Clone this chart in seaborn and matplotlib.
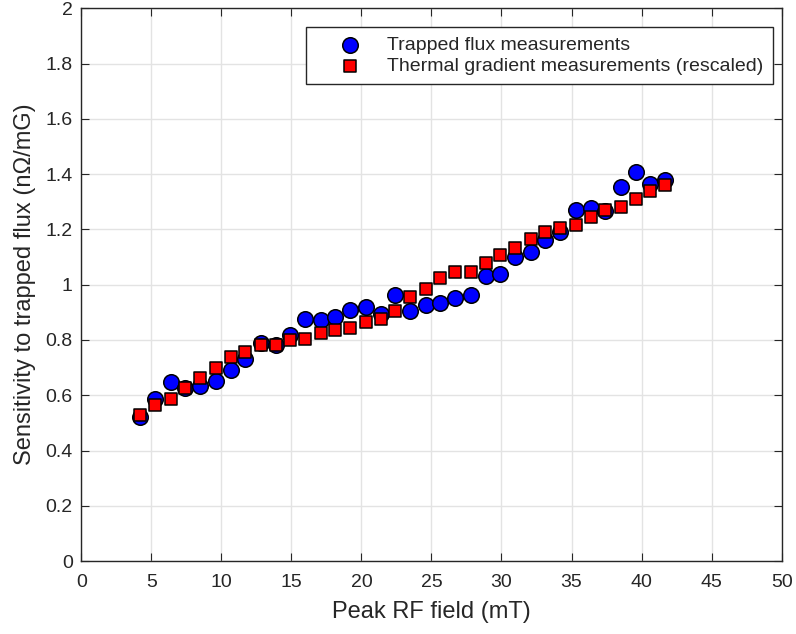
import seaborn as sns
import matplotlib
matplotlib.use('Agg')
import matplotlib.pyplot as plt
import pandas as pd
from matplotlib.ticker import FormatStrFormatter

# Peak RF field (mT)
field = [4.2, 5.3, 6.4, 7.4, 8.5, 9.6, 10.7, 11.7, 12.8, 13.9, 14.9, 16.0,
         17.1, 18.1, 19.2, 20.3, 21.4, 22.4, 23.5, 24.6, 25.6, 26.7, 27.8, 28.9,
         29.9, 31.0, 32.1, 33.1, 34.2, 35.3, 36.4, 37.4, 38.5, 39.6, 40.6, 41.7]

# trapped flux measurements (blue circles)
trapped = [0.52, 0.585, 0.648, 0.625, 0.632, 0.65, 0.693, 0.73, 0.79, 0.78, 0.818, 0.875,
           0.872, 0.882, 0.91, 0.92, 0.893, 0.962, 0.903, 0.928, 0.935, 0.95, 0.963, 1.03,
           1.04, 1.10, 1.117, 1.162, 1.19, 1.27, 1.278, 1.268, 1.352, 1.407, 1.365, 1.38]

# thermal gradient measurements, rescaled (red squares)
thermal = [0.53, 0.563, 0.585, 0.625, 0.664, 0.698, 0.738, 0.757, 0.782, 0.783, 0.80, 0.803,
           0.824, 0.835, 0.845, 0.866, 0.877, 0.906, 0.956, 0.985, 1.025, 1.045, 1.045, 1.08,
           1.108, 1.134, 1.164, 1.19, 1.205, 1.215, 1.245, 1.27, 1.28, 1.311, 1.34, 1.36]

df = pd.DataFrame({'field': field, 'trapped': trapped, 'thermal': thermal})

sns.set_style('white')
plt.rcParams['font.family'] = ['Liberation Sans', 'DejaVu Sans']

fig = plt.figure(figsize=(7.96, 6.34), dpi=100)
ax = fig.add_axes([0.102, 0.115, 0.880, 0.872])

sns.scatterplot(data=df, x='field', y='trapped', marker='o', s=125, color='#0000ff',
                edgecolor='black', linewidth=1.1, label='Trapped flux measurements', ax=ax, zorder=3)
sns.scatterplot(data=df, x='field', y='thermal', marker='s', s=85, color='#ff0000',
                edgecolor='black', linewidth=1.1, label='Thermal gradient measurements (rescaled)', ax=ax, zorder=4)

ax.set_xlim(0, 50)
ax.set_ylim(0, 2)
ax.set_xticks(range(0, 51, 5))
ax.set_yticks([i * 0.2 for i in range(11)])
ax.yaxis.set_major_formatter(FormatStrFormatter('%g'))

ax.grid(True, color='#e3e3e3', linewidth=1.0)
ax.set_axisbelow(True)
for sp in ax.spines.values():
    sp.set_color('#262626')
    sp.set_linewidth(1.0)
ax.tick_params(direction='in', length=6, width=0.8, color='#262626', labelsize=14,
               labelcolor='#262626', top=True, right=True, bottom=True, left=True)
ax.tick_params(axis='x', pad=9)
ax.tick_params(axis='y', pad=6)

ax.set_xlabel('Peak RF field (mT)', fontsize=17, color='#262626')
ax.set_ylabel('Sensitivity to trapped flux (nΩ/mG)', fontsize=17, color='#262626')
ax.xaxis.set_label_coords(0.5, -0.072)
ax.yaxis.set_label_coords(-0.064, 0.5)

leg = ax.legend(loc='upper right', bbox_to_anchor=(0.987, 0.966), fontsize=14, frameon=True,
                fancybox=False, edgecolor='#262626', framealpha=1, borderpad=0.47,
                handletextpad=0.1, borderaxespad=0, labelspacing=0.17, handlelength=3.6)
leg.get_frame().set_linewidth(1.0)

fig.savefig('out.png', dpi=100)
